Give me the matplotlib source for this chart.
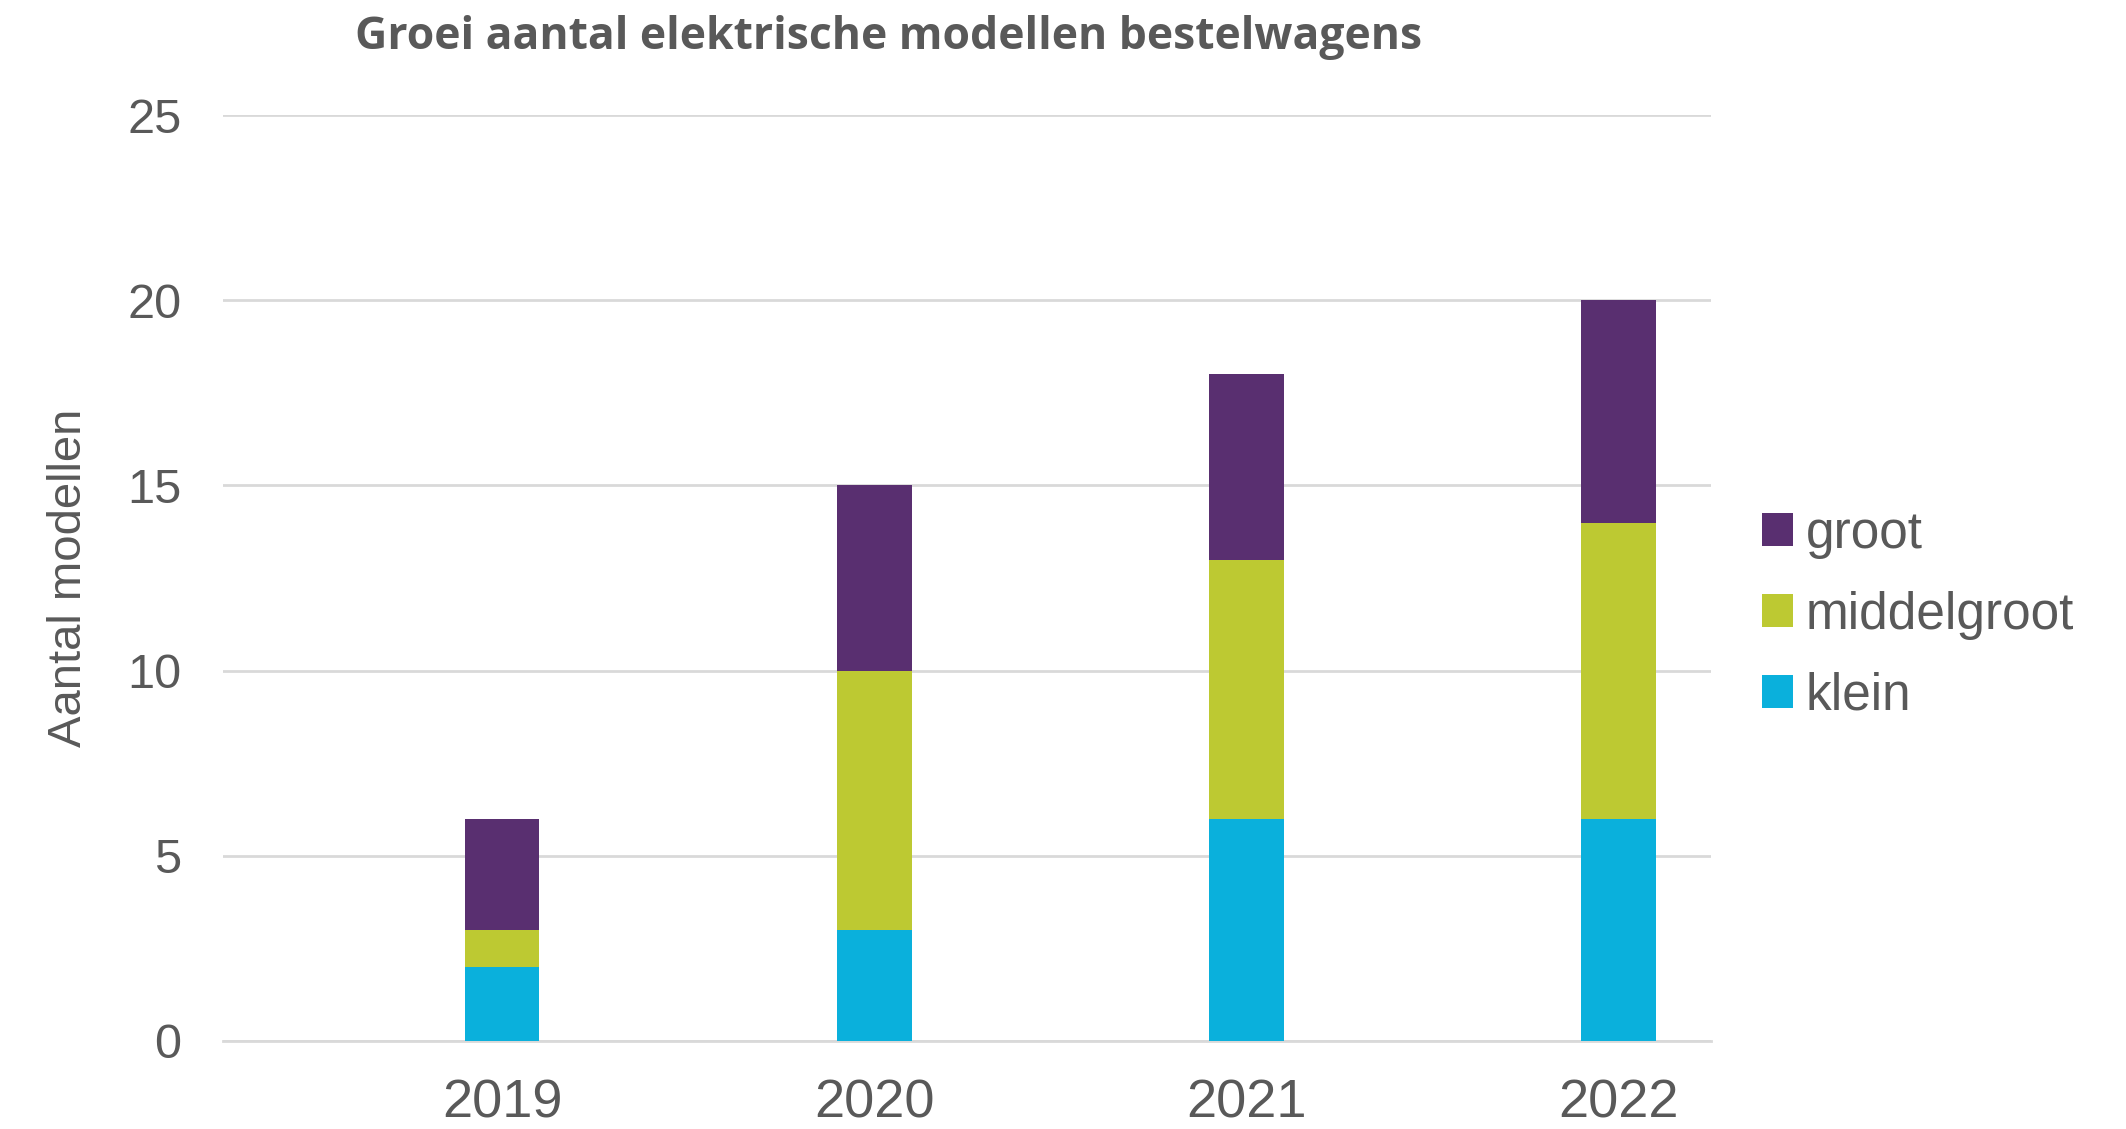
import matplotlib.pyplot as plt
import numpy as np

# data
jaren = ["2019", "2020", "2021", "2022"]
klein = [2, 3, 6, 6]
middelgroot = [1, 7, 7, 8]
groot = [3, 5, 5, 6]

kleur_tekst = "#595959"
kleur_grid = "#D9D9D9"

plt.rcParams["font.family"] = ["Liberation Sans", "DejaVu Sans"]

fig = plt.figure(figsize=(21.26, 11.29), dpi=100)
ax = fig.add_axes([0.105, 0.078, 0.700, 0.820])

x = np.arange(len(jaren))
breedte = 0.2
onder2 = np.array(klein) + np.array(middelgroot)

ax.bar(x, klein, breedte, color="#0AB0DC", label="klein", zorder=3)
ax.bar(x, middelgroot, breedte, bottom=klein, color="#BDC932", label="middelgroot", zorder=3)
ax.bar(x, groot, breedte, bottom=onder2, color="#592F70", label="groot", zorder=3)

ax.set_xlim(-0.75, 3.25)
ax.set_ylim(0, 25)
ax.set_yticks([0, 5, 10, 15, 20, 25])
ax.set_xticks(x)
ax.set_xticklabels(jaren)
ax.tick_params(axis="y", labelsize=35, colors=kleur_tekst, length=0, pad=30)
ax.tick_params(axis="x", labelsize=39, colors=kleur_tekst, length=0, pad=27)
ax.yaxis.grid(True, color=kleur_grid, linewidth=2, zorder=0)

for kant in ["top", "right", "left"]:
    ax.spines[kant].set_visible(False)
ax.spines["bottom"].set_color(kleur_grid)
ax.spines["bottom"].set_linewidth(2)

ax.set_ylabel("Aantal modellen", fontsize=34, color=kleur_tekst, labelpad=26)

fig.text(0.418, 0.967, "Groei aantal elektrische modellen bestelwagens",
         fontsize=32, fontweight="bold", color=kleur_tekst, ha="center", va="center",
         family=["Open Sans", "DejaVu Sans"])

handles, labels = ax.get_legend_handles_labels()
leg = ax.legend(handles[::-1], labels[::-1], loc="center left", bbox_to_anchor=(1.02, 0.46),
                frameon=False, fontsize=37, handlelength=0.6, handleheight=0.6,
                handletextpad=0.25, labelspacing=0.62, borderaxespad=0)
for t in leg.get_texts():
    t.set_color(kleur_tekst)

fig.savefig("out.png", dpi=100)
